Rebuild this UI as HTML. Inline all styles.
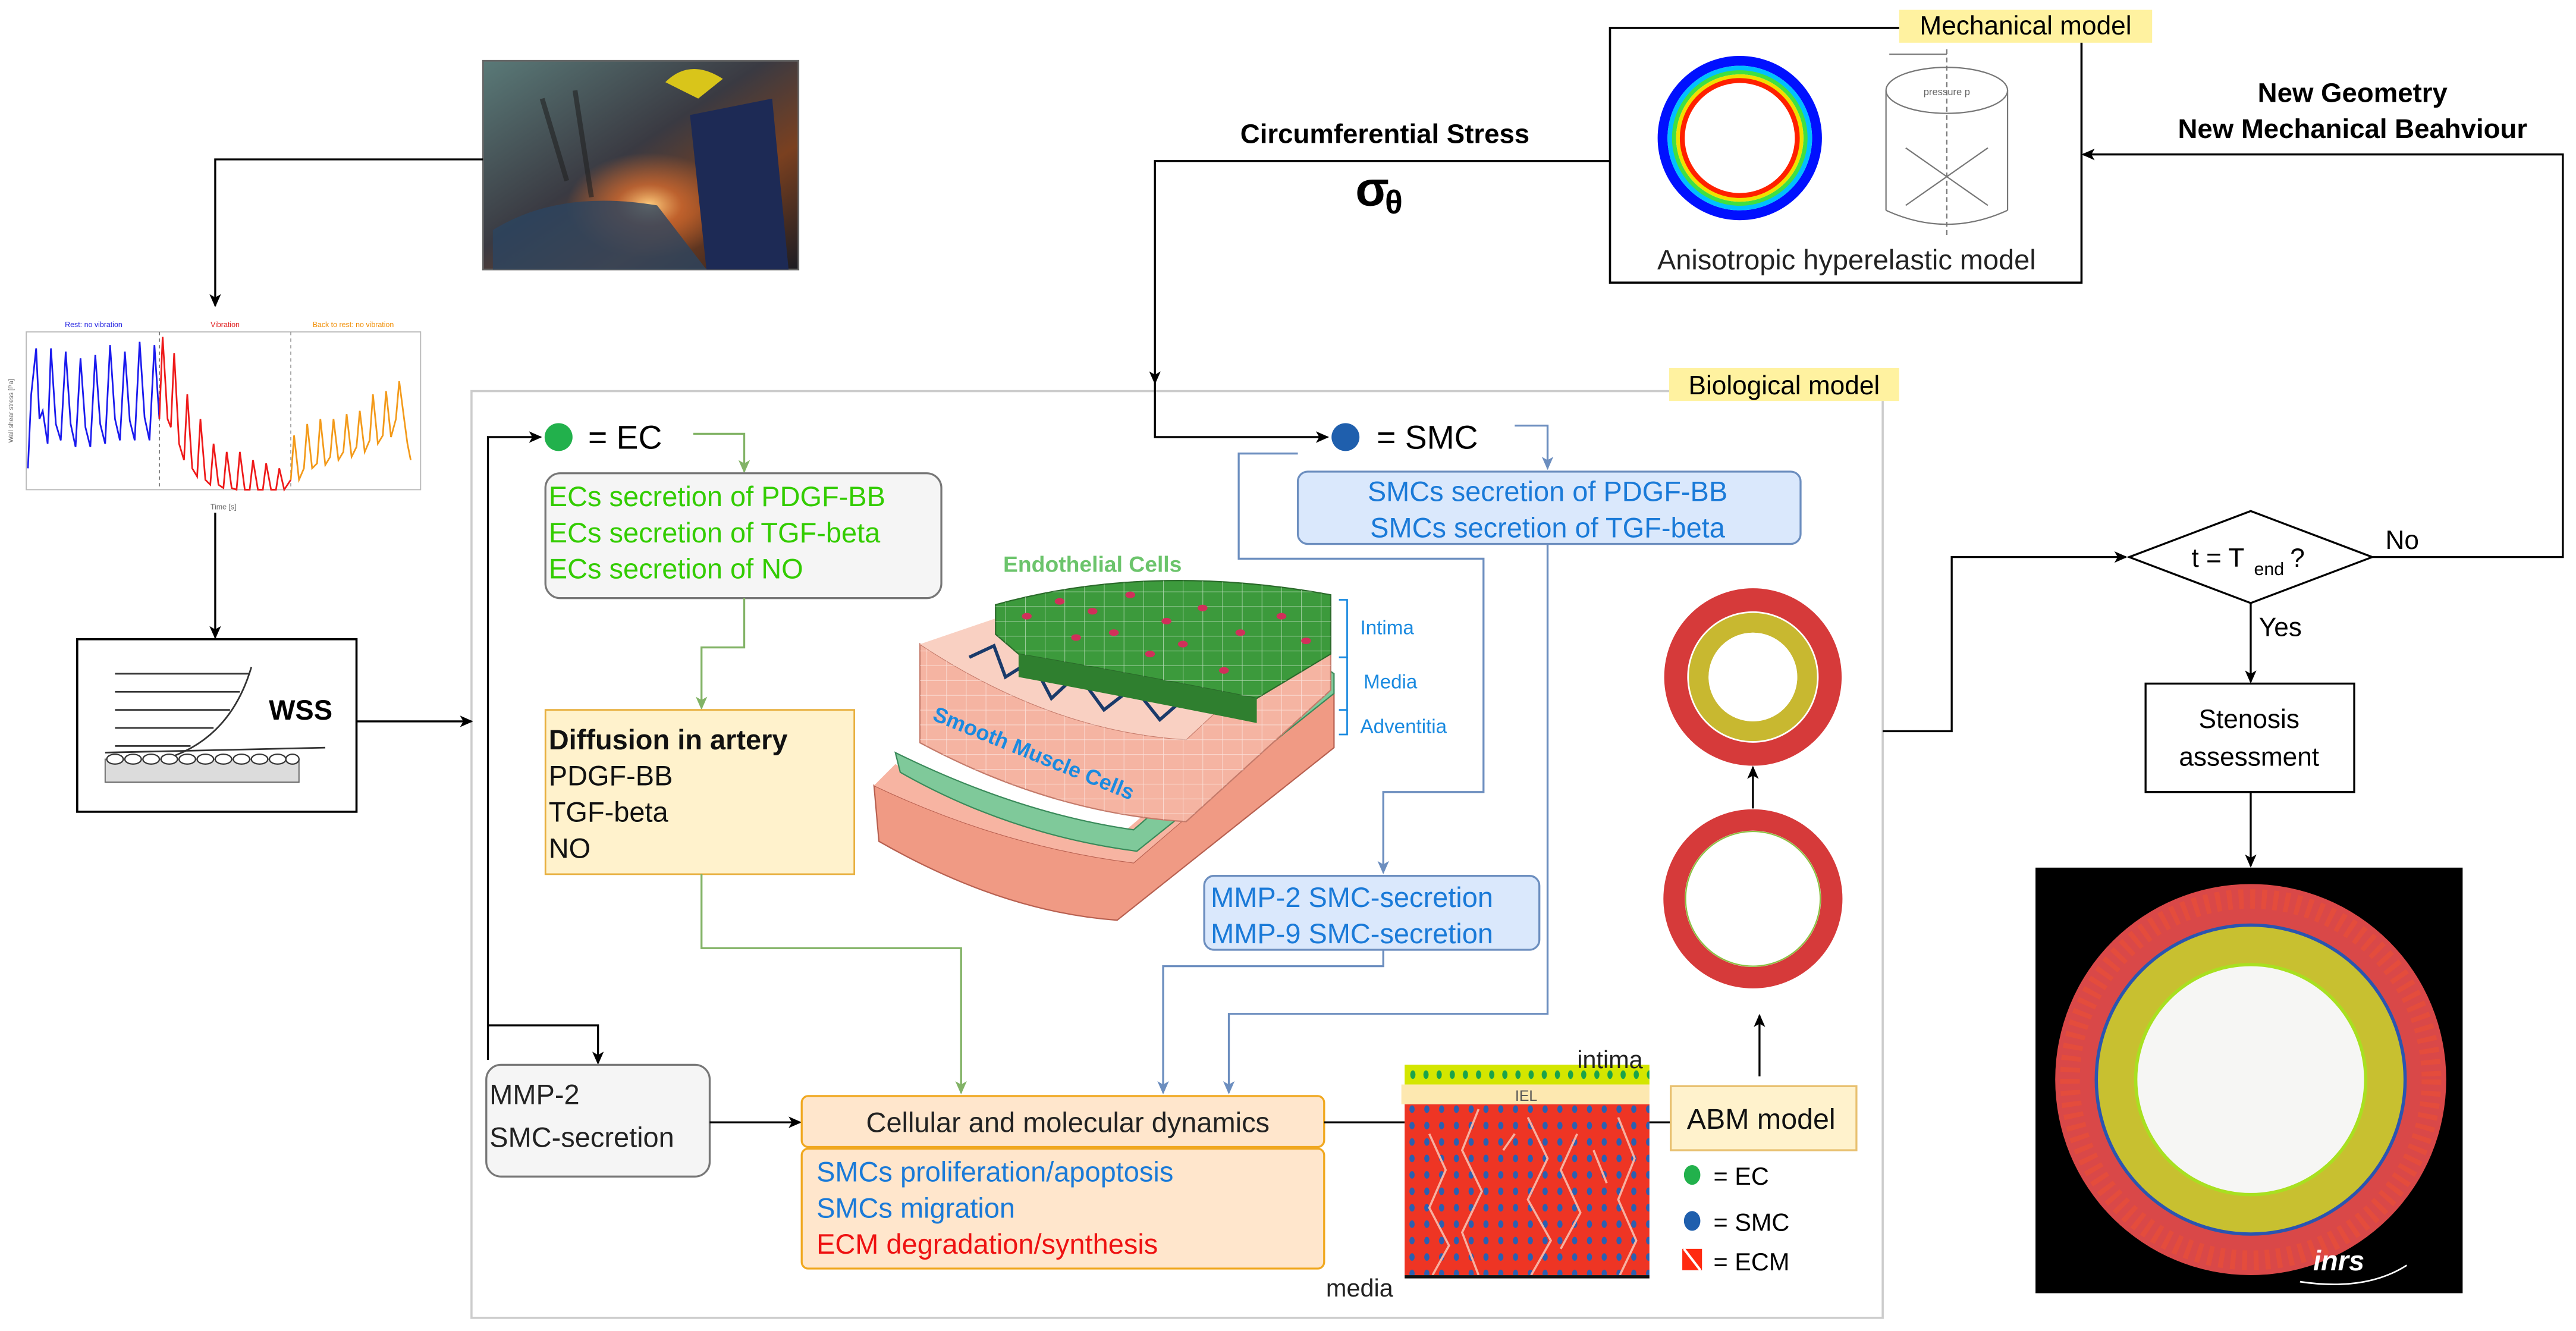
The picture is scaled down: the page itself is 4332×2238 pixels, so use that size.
<!DOCTYPE html>
<html><head><meta charset="utf-8"><style>
html,body{margin:0;padding:0;background:#fff;}
svg{display:block;}
text{font-family:"Liberation Sans",sans-serif;}
</style></head><body>
<svg width="4332" height="2238" viewBox="0 0 1568 810" preserveAspectRatio="none" xmlns="http://www.w3.org/2000/svg">
<defs>
<marker id="ak" markerWidth="8" markerHeight="8" refX="7" refY="4" orient="auto" markerUnits="userSpaceOnUse"><path d="M0,0.5 L8,4 L0,7.5 L2,4 Z" fill="#000"/></marker>
<marker id="ag" markerWidth="8" markerHeight="8" refX="7" refY="4" orient="auto" markerUnits="userSpaceOnUse"><path d="M0,0.5 L8,4 L0,7.5 L2,4 Z" fill="#82b366"/></marker>
<marker id="ab" markerWidth="8" markerHeight="8" refX="7" refY="4" orient="auto" markerUnits="userSpaceOnUse"><path d="M0,0.5 L8,4 L0,7.5 L2,4 Z" fill="#6c8ebf"/></marker>
<linearGradient id="ph" x1="0" y1="0" x2="1" y2="1"><stop offset="0" stop-color="#5a7a78"/><stop offset="0.45" stop-color="#3a3a42"/><stop offset="0.7" stop-color="#7a4020"/><stop offset="1" stop-color="#1c1c22"/></linearGradient>
<radialGradient id="spark" cx="0.5" cy="0.5" r="0.5"><stop offset="0" stop-color="#ffd080"/><stop offset="0.4" stop-color="#e07030" stop-opacity="0.7"/><stop offset="1" stop-color="#e07030" stop-opacity="0"/></radialGradient>
<pattern id="ecm" width="9" height="10" patternUnits="userSpaceOnUse"><rect width="9" height="10" fill="#ee3524"/><ellipse cx="4.5" cy="5" rx="1.6" ry="2.3" fill="#2b5fb0"/></pattern>
<pattern id="ecd" width="8" height="12" patternUnits="userSpaceOnUse"><rect width="8" height="12" fill="#d4e600"/><ellipse cx="4" cy="6" rx="1.6" ry="2.6" fill="#1aa34a"/></pattern>
<pattern id="cells" width="12" height="9" patternUnits="userSpaceOnUse"><path d="M0,0 L12,0 M0,0 L0,9" stroke="#fff" stroke-width="0.6" opacity="0.6"/></pattern>
</defs>

<!-- photo -->
<rect x="294" y="37" width="192" height="127" fill="url(#ph)" stroke="#666" stroke-width="1"/>
<ellipse cx="395" cy="125" rx="50" ry="32" fill="url(#spark)"/>
<path d="M420,70 L470,60 L480,164 L430,164 Z" fill="#1d2a55"/>
<path d="M405,50 Q420,35 440,48 L425,60 Z" fill="#d9c51a"/>
<path d="M300,140 Q340,115 400,125 L430,164 L300,164 Z" fill="#2c4560" opacity="0.8"/>
<path d="M330,60 L345,110 M350,55 L360,120" stroke="#222" stroke-width="3" opacity="0.6"/>

<!-- chart -->
<text x="57" y="199" font-size="4.5" fill="#2020e0" text-anchor="middle">Rest: no vibration</text>
<text x="137" y="199" font-size="4.5" fill="#e02020" text-anchor="middle">Vibration</text>
<text x="215" y="199" font-size="4.5" fill="#f08c00" text-anchor="middle">Back to rest: no vibration</text>
<rect x="16" y="202" width="240" height="96" fill="none" stroke="#bbb" stroke-width="0.7"/>
<line x1="97" y1="202" x2="97" y2="298" stroke="#666" stroke-width="0.6" stroke-dasharray="2,2"/>
<line x1="177" y1="202" x2="177" y2="298" stroke="#999" stroke-width="0.6" stroke-dasharray="2,2"/>
<polyline fill="none" stroke="#1a1aee" stroke-width="1" points="17,285 19,240 22,212 24,255 26,250 29,270 31,212 34,258 37,268 40,214 43,258 46,272 49,218 52,260 55,272 58,216 61,258 64,270 67,210 70,255 73,268 76,214 79,256 82,268 85,208 88,254 91,268 94,210 97,255"/>
<polyline fill="none" stroke="#ee1a1a" stroke-width="1" points="97,255 99,205 102,255 104,260 106,215 109,270 112,280 114,240 117,285 120,290 122,255 125,292 128,295 130,270 133,295 136,297 138,275 141,297 144,298 146,275 149,298 152,298 154,280 157,298 160,298 162,282 165,298 168,298 170,285 173,298 177,292"/>
<polyline fill="none" stroke="#f39a1a" stroke-width="1" points="177,292 179,265 182,292 185,285 187,258 190,285 193,282 195,255 198,283 201,278 203,255 206,280 209,275 211,252 214,278 217,272 219,250 222,275 225,268 227,240 230,270 233,265 235,238 238,266 241,255 243,232 246,255 248,270 250,280"/>
<text x="136" y="310" font-size="4.5" fill="#666" text-anchor="middle">Time [s]</text>
<text x="8" y="250" font-size="4" fill="#666" transform="rotate(-90 8 250)" text-anchor="middle">Wall shear stress [Pa]</text>

<!-- connectors left -->
<polyline points="294,97 131,97 131,186" fill="none" stroke="#000" stroke-width="1.2" marker-end="url(#ak)"/>
<polyline points="131,312 131,388" fill="none" stroke="#000" stroke-width="1.2" marker-end="url(#ak)"/>

<!-- WSS box -->
<rect x="47" y="389" width="170" height="105" fill="#fff" stroke="#000" stroke-width="1.3"/>
<g stroke="#333" stroke-width="1" fill="none">
<line x1="70" y1="410" x2="152" y2="410"/><line x1="70" y1="421" x2="146" y2="421"/><line x1="70" y1="432" x2="140" y2="432"/><line x1="70" y1="443" x2="130" y2="443"/><line x1="70" y1="454" x2="116" y2="454"/>
<path d="M100,462 Q140,450 153,406"/>
<line x1="64" y1="458" x2="198" y2="455"/>
</g>
<rect x="64" y="462" width="118" height="14" fill="#dcdcdc" stroke="#666" stroke-width="0.7"/>
<g fill="#fff" stroke="#333" stroke-width="0.8"><ellipse cx="70" cy="462" rx="5" ry="3"/><ellipse cx="81" cy="462" rx="5" ry="3"/><ellipse cx="92" cy="462" rx="5" ry="3"/><ellipse cx="103" cy="462" rx="5" ry="3"/><ellipse cx="114" cy="462" rx="5" ry="3"/><ellipse cx="125" cy="462" rx="5" ry="3"/><ellipse cx="136" cy="462" rx="5" ry="3"/><ellipse cx="147" cy="462" rx="5" ry="3"/><ellipse cx="158" cy="462" rx="5" ry="3"/><ellipse cx="169" cy="462" rx="5" ry="3"/><ellipse cx="178" cy="462" rx="4" ry="3"/></g>
<text x="183" y="438" font-size="17" font-weight="bold" text-anchor="middle">WSS</text>

<!-- biological model frame -->
<rect x="287" y="238" width="859" height="564" fill="none" stroke="#ccc" stroke-width="1.3"/>
<rect x="1016" y="224" width="140" height="20" fill="#fff2a0"/>
<text x="1086" y="240" font-size="16" text-anchor="middle">Biological model</text>

<polyline points="217,439 287,439" fill="none" stroke="#000" stroke-width="1.2" marker-end="url(#ak)"/>
<polyline points="297,645 297,266 329,266" fill="none" stroke="#000" stroke-width="1.2" marker-end="url(#ak)"/>
<polyline points="297,624 364,624 364,647" fill="none" stroke="#000" stroke-width="1.2" marker-end="url(#ak)"/>

<!-- EC -->
<circle cx="340" cy="266" r="8.5" fill="#22b14c"/>
<text x="358" y="273" font-size="20">= EC</text>
<polyline points="422,264 453,264 453,287" fill="none" stroke="#82b366" stroke-width="1.2" marker-end="url(#ag)"/>
<rect x="332" y="288" width="241" height="76" rx="9" fill="#f5f5f5" stroke="#777" stroke-width="1.2"/>
<g font-size="17" fill="#33cc00"><text x="334" y="308">ECs secretion of PDGF-BB</text><text x="334" y="330">ECs secretion of TGF-beta</text><text x="334" y="352">ECs secretion of NO</text></g>
<polyline points="453,364 453,394 427,394 427,431" fill="none" stroke="#82b366" stroke-width="1.2" marker-end="url(#ag)"/>

<rect x="332" y="432" width="188" height="100" fill="#fff2cc" stroke="#e8b040" stroke-width="1"/>
<g font-size="17" fill="#111"><text x="334" y="456" font-weight="bold">Diffusion in artery</text><text x="334" y="478">PDGF-BB</text><text x="334" y="500">TGF-beta</text><text x="334" y="522">NO</text></g>
<polyline points="427,532 427,577 585,577 585,665" fill="none" stroke="#82b366" stroke-width="1.2" marker-end="url(#ag)"/>

<!-- artery illustration -->
<text x="665" y="348" font-size="13.5" font-weight="bold" fill="#6cc46c" text-anchor="middle">Endothelial Cells</text>
<!-- bottom salmon block -->
<path d="M532,478 L535,512 Q610,555 680,560 L812,455 L812,420 L690,525 Q610,515 532,478 Z" fill="#f09a84" stroke="#b86050" stroke-width="0.8"/>
<path d="M532,478 Q610,515 690,525 L812,420 L795,412 L682,508 Q605,500 545,465 Z" fill="#f7b4a2"/>
<!-- green wavy layer -->
<path d="M545,458 Q620,495 690,505 L805,405 L812,410 L812,422 L692,518 Q615,508 548,470 Z" fill="#7fc99a" stroke="#3a8a5a" stroke-width="0.8"/>
<!-- pink middle block -->
<path d="M560,392 L560,452 Q640,495 722,500 L810,420 L810,368 L722,450 Q640,445 560,392 Z" fill="#f5b4a2" stroke="#c47a6a" stroke-width="0.8"/>
<path d="M560,392 L560,452 Q640,495 722,500 L810,420 L810,368 L722,450 Q640,445 560,392 Z" fill="url(#cells)"/>
<path d="M560,392 Q640,445 722,450 L810,368 L790,360 Q700,395 610,375 Z" fill="#f9d0c2"/>
<path d="M590,400 L605,393 L612,412 L628,402 L640,425 L656,410 L672,432 L690,418 L706,438 L722,424" fill="none" stroke="#1a3a6a" stroke-width="2"/>
<!-- green top slab -->
<path d="M606,368 Q700,342 810,362 L810,398 L765,425 Q690,410 620,398 L606,386 Z" fill="#3c9a3c" stroke="#2a6a2a" stroke-width="0.8"/>
<path d="M620,398 Q690,410 765,425 L765,440 Q690,425 620,412 Z" fill="#2f7f2f"/>
<path d="M606,368 Q700,342 810,362 L810,398 L765,425 Q690,410 620,398 L606,386 Z" fill="url(#cells)"/>
<g fill="#d0305a"><ellipse cx="625" cy="375" rx="3" ry="2"/><ellipse cx="645" cy="366" rx="3" ry="2"/><ellipse cx="665" cy="372" rx="3" ry="2"/><ellipse cx="688" cy="362" rx="3" ry="2"/><ellipse cx="710" cy="378" rx="3" ry="2"/><ellipse cx="732" cy="370" rx="3" ry="2"/><ellipse cx="755" cy="385" rx="3" ry="2"/><ellipse cx="780" cy="375" rx="3" ry="2"/><ellipse cx="655" cy="388" rx="3" ry="2"/><ellipse cx="700" cy="398" rx="3" ry="2"/><ellipse cx="745" cy="408" rx="3" ry="2"/><ellipse cx="795" cy="390" rx="3" ry="2"/><ellipse cx="720" cy="392" rx="3" ry="2"/><ellipse cx="678" cy="385" rx="3" ry="2"/></g>
<text x="567" y="438" font-size="13" font-weight="bold" fill="#1a8ae0" transform="rotate(22 567 438)">Smooth Muscle Cells</text>
<g stroke="#1a8ae0" stroke-width="1" fill="none"><polyline points="815,365 820,365 820,400 815,400"/><polyline points="820,400 820,432 815,432"/><polyline points="820,432 820,447 815,447"/></g>
<g font-size="12" fill="#1a8ae0"><text x="828" y="386">Intima</text><text x="830" y="419">Media</text><text x="828" y="446">Adventitia</text></g>

<!-- mechanical connector -->
<polyline points="980,98 703,98 703,233" fill="none" stroke="#000" stroke-width="1.2" marker-end="url(#ak)"/>
<polyline points="703,233 703,266 808,266" fill="none" stroke="#000" stroke-width="1.2" marker-end="url(#ak)"/>
<text x="843" y="87" font-size="16.5" font-weight="bold" text-anchor="middle">Circumferential Stress</text>
<text x="825" y="125" font-size="30" font-family="Liberation Serif" font-weight="bold">σ</text><text x="843" y="130" font-size="20" font-family="Liberation Serif" font-weight="bold">θ</text>

<!-- SMC -->
<circle cx="819" cy="266" r="8.5" fill="#1f5fad"/>
<text x="838" y="273" font-size="20">= SMC</text>
<polyline points="922,259 942,259 942,285" fill="none" stroke="#6c8ebf" stroke-width="1.2" marker-end="url(#ab)"/>
<polyline points="790,276 754,276 754,340 903,340 903,482 842,482 842,531" fill="none" stroke="#6c8ebf" stroke-width="1.2" marker-end="url(#ab)"/>
<rect x="790" y="287" width="306" height="44" rx="6" fill="#dae8fc" stroke="#6c8ebf" stroke-width="1.2"/>
<g font-size="17" fill="#1a7ad8" text-anchor="middle"><text x="942" y="305">SMCs secretion of PDGF-BB</text><text x="942" y="327">SMCs secretion of TGF-beta</text></g>
<polyline points="942,331 942,617 748,617 748,665" fill="none" stroke="#6c8ebf" stroke-width="1.2" marker-end="url(#ab)"/>
<rect x="733" y="533" width="204" height="45" rx="6" fill="#dae8fc" stroke="#6c8ebf" stroke-width="1.2"/>
<g font-size="17" fill="#1a7ad8"><text x="737" y="552">MMP-2 SMC-secretion</text><text x="737" y="574">MMP-9 SMC-secretion</text></g>
<polyline points="842,578 842,588 708,588 708,665" fill="none" stroke="#6c8ebf" stroke-width="1.2" marker-end="url(#ab)"/>

<!-- MMP-2 gray -->
<rect x="296" y="648" width="136" height="68" rx="9" fill="#f5f5f5" stroke="#777" stroke-width="1.2"/>
<g font-size="17" fill="#222"><text x="298" y="672">MMP-2</text><text x="298" y="698">SMC-secretion</text></g>
<polyline points="432,683 487,683" fill="none" stroke="#000" stroke-width="1.2" marker-end="url(#ak)"/>

<!-- cellular dynamics -->
<rect x="488" y="667" width="318" height="31" rx="4" fill="#ffe6cc" stroke="#f0a820" stroke-width="1.2"/>
<text x="650" y="689" font-size="17" fill="#222" text-anchor="middle">Cellular and molecular dynamics</text>
<rect x="488" y="699" width="318" height="73" rx="4" fill="#ffe6cc" stroke="#f0a820" stroke-width="1.2"/>
<g font-size="17"><text x="497" y="719" fill="#1a7ad8">SMCs proliferation/apoptosis</text><text x="497" y="741" fill="#1a7ad8">SMCs migration</text><text x="497" y="763" fill="#ee1111">ECM degradation/synthesis</text></g>
<line x1="806" y1="683" x2="855" y2="683" stroke="#000" stroke-width="1.2"/>

<!-- ABM grid -->
<rect x="855" y="648" width="149" height="12" fill="url(#ecd)"/>
<rect x="853" y="660" width="151" height="12" fill="#fde8b0"/>
<text x="929" y="670" font-size="9" fill="#555" text-anchor="middle">IEL</text>
<rect x="855" y="672" width="149" height="104" fill="url(#ecm)"/>
<g stroke="#f7b0a0" stroke-width="1.3" fill="none">
<polyline points="870,690 880,712 870,735 882,758 872,776"/><polyline points="900,675 890,700 902,725 890,750 900,776"/><polyline points="930,680 942,705 930,730 944,755 932,776"/><polyline points="960,690 950,712 962,738 950,760"/><polyline points="985,680 995,705 985,730 996,755 986,776"/><polyline points="915,700 922,690"/><polyline points="970,700 978,720"/>
</g>
<rect x="855" y="776" width="149" height="2" fill="#111"/>
<text x="1000" y="650" font-size="15" fill="#222" text-anchor="end">intima</text>
<text x="848" y="789" font-size="15" fill="#222" text-anchor="end">media</text>
<line x1="1004" y1="683" x2="1017" y2="683" stroke="#000" stroke-width="1.2"/>
<rect x="1017" y="661" width="113" height="39" fill="#fff2cc" stroke="#e8c070" stroke-width="1.2"/>
<text x="1072" y="687" font-size="17.5" fill="#111" text-anchor="middle">ABM model</text>
<ellipse cx="1030" cy="715" rx="5" ry="6" fill="#22b14c"/><text x="1043" y="721" font-size="15">= EC</text>
<ellipse cx="1030" cy="743" rx="5" ry="6" fill="#1f5fad"/><text x="1043" y="749" font-size="15">= SMC</text>
<rect x="1024" y="760" width="12" height="13" fill="#ff2a10"/><line x1="1025" y1="760" x2="1035" y2="773" stroke="#fff" stroke-width="1.5"/><text x="1043" y="773" font-size="15">= ECM</text>
<polyline points="1071,655 1071,618" fill="none" stroke="#000" stroke-width="1.2" marker-end="url(#ak)"/>

<!-- rings -->
<circle cx="1067" cy="547" r="48" fill="none" stroke="#d63a3a" stroke-width="13"/>
<circle cx="1067" cy="547" r="41" fill="#fff" stroke="#8ac040" stroke-width="0.8"/>
<polyline points="1067,492 1067,467" fill="none" stroke="#000" stroke-width="1.2" marker-end="url(#ak)"/>
<circle cx="1067" cy="412" r="47" fill="none" stroke="#d63a3a" stroke-width="14"/>
<circle cx="1067" cy="412" r="33" fill="none" stroke="#c8b830" stroke-width="12"/>
<circle cx="1067" cy="412" r="27" fill="#fff"/>

<!-- right connectors -->
<polyline points="1146,445 1188,445 1188,339 1294,339" fill="none" stroke="#000" stroke-width="1.2" marker-end="url(#ak)"/>
<polygon points="1296,339 1370,311 1444,339 1370,367" fill="#fff" stroke="#000" stroke-width="1.2"/>
<text x="1334" y="345" font-size="16">t = T</text><text x="1372" y="350" font-size="11">end</text><text x="1394" y="345" font-size="16"> ?</text>
<text x="1452" y="334" font-size="16">No</text>
<polyline points="1444,339 1560,339 1560,94 1268,94" fill="none" stroke="#000" stroke-width="1.2" marker-end="url(#ak)"/>
<text x="1432" y="62" font-size="16.5" font-weight="bold" text-anchor="middle">New Geometry</text>
<text x="1432" y="84" font-size="16.5" font-weight="bold" text-anchor="middle">New Mechanical Beahviour</text>
<text x="1375" y="387" font-size="16">Yes</text>
<polyline points="1370,367 1370,415" fill="none" stroke="#000" stroke-width="1.2" marker-end="url(#ak)"/>
<rect x="1306" y="416" width="127" height="66" fill="#fff" stroke="#000" stroke-width="1.2"/>
<g font-size="16" text-anchor="middle"><text x="1369" y="443">Stenosis</text><text x="1369" y="466">assessment</text></g>
<polyline points="1370,482 1370,527" fill="none" stroke="#000" stroke-width="1.2" marker-end="url(#ak)"/>

<!-- stenosis image -->
<rect x="1239" y="528" width="260" height="259" fill="#000"/>
<circle cx="1370" cy="657" r="119" fill="#d94848"/>
<circle cx="1370" cy="657" r="110" fill="none" stroke="#f05030" stroke-width="12" stroke-dasharray="3,4" opacity="0.5"/>
<circle cx="1370" cy="657" r="95" fill="#2a55b0"/>
<circle cx="1370" cy="657" r="93" fill="#c8c030"/>
<circle cx="1370" cy="657" r="71" fill="#a8e020"/>
<circle cx="1370" cy="657" r="69" fill="#f6f6f4"/>
<text x="1408" y="773" font-size="17" font-weight="bold" font-style="italic" fill="#fff">inrs</text>
<path d="M1400,780 Q1440,786 1465,770" fill="none" stroke="#fff" stroke-width="1"/>

<!-- mechanical model -->
<rect x="980" y="17" width="287" height="155" fill="#fff" stroke="#000" stroke-width="1.3"/>
<rect x="1156" y="6" width="154" height="20" fill="#fff2a0"/>
<text x="1233" y="21" font-size="16" text-anchor="middle">Mechanical model</text>
<circle cx="1059" cy="84" r="47" fill="none" stroke="#0010ff" stroke-width="6"/>
<circle cx="1059" cy="84" r="42.5" fill="none" stroke="#00c0ff" stroke-width="3"/>
<circle cx="1059" cy="84" r="40" fill="none" stroke="#40e040" stroke-width="2.5"/>
<circle cx="1059" cy="84" r="37.5" fill="none" stroke="#f0e000" stroke-width="2.5"/>
<circle cx="1059" cy="84" r="35" fill="none" stroke="#ff2000" stroke-width="3"/>
<g fill="none" stroke="#777" stroke-width="0.8">
<ellipse cx="1185" cy="55" rx="37" ry="14"/>
<line x1="1148" y1="55" x2="1148" y2="128"/><line x1="1222" y1="55" x2="1222" y2="128"/>
<path d="M1148,128 Q1185,145 1222,128"/>
<line x1="1185" y1="30" x2="1185" y2="145" stroke-dasharray="3,2"/>
<line x1="1160" y1="90" x2="1210" y2="125"/><line x1="1210" y1="90" x2="1160" y2="125"/>
<line x1="1150" y1="33" x2="1185" y2="33"/>
</g>
<text x="1185" y="58" font-size="6" fill="#666" text-anchor="middle">pressure p</text>
<text x="1124" y="164" font-size="17" fill="#222" text-anchor="middle">Anisotropic hyperelastic model</text>
</svg>
</body></html>
